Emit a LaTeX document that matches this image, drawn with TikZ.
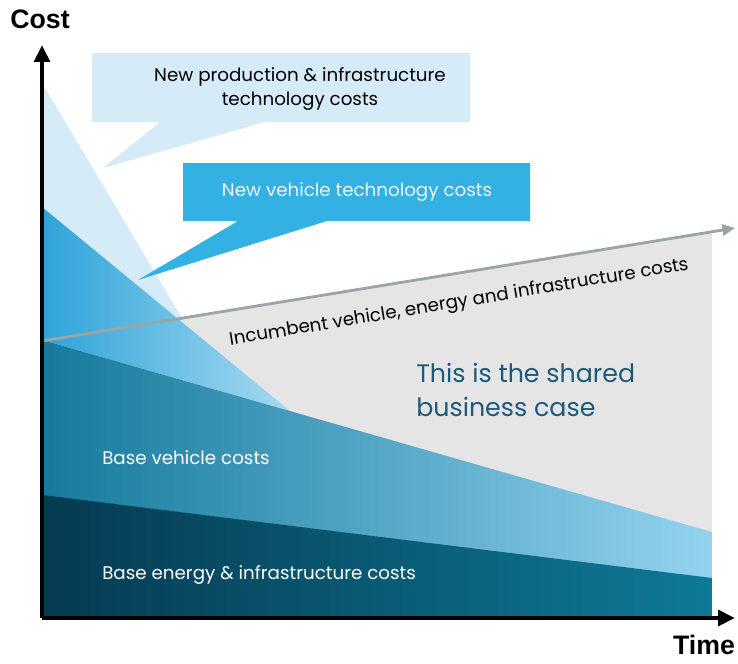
\documentclass[tikz,border=0pt]{standalone}
\usepackage{fontspec}
\setmainfont{Poppins}
\newfontfamily\axisfont{Liberation Sans}
\usetikzlibrary{arrows.meta}

\definecolor{energyleft}{RGB}{6, 58, 82}
\definecolor{energyright}{RGB}{14, 122, 150}
\definecolor{vehicleleft}{RGB}{22, 122, 156}
\definecolor{vehicleright}{RGB}{147, 211, 239}
\definecolor{newvehleft}{RGB}{46, 163, 217}
\definecolor{newvehright}{RGB}{166, 218, 241}
\definecolor{newprod}{RGB}{213, 236, 248}
\definecolor{newvehbox}{RGB}{51, 177, 227}
\definecolor{sharedgray}{RGB}{229, 229, 229}
\definecolor{incumbent}{RGB}{154, 165, 166}
\definecolor{sharedtext}{RGB}{29, 90, 122}

\tikzset{
  axisline/.style={line width=2.8pt, -{Triangle[length=12pt, width=11pt]}},
  axislabel/.style={font=\axisfont\bfseries\fontsize{19}{22}\selectfont},
  costlabel/.style={font=\fontsize{13}{17.7}\selectfont, inner sep=0pt},
}

\begin{document}
\begin{tikzpicture}[x=0.025cm, y=-0.025cm]
			\useasboundingbox (0, 0) rectangle (738, 664);
			% named corners
			\coordinate (O) at (42, 618);
			\coordinate (ytop) at (42, 45);
			\coordinate (xend) at (735, 618);
			\coordinate (inc0) at (42, 341);
			\coordinate (inc1) at (735, 228);
			% cost layers
			\fill [sharedgray] (42, 341) -- (712, 232) -- (712, 532) -- cycle;
			\fill [newprod] (42, 83) -- (182, 318) -- (42, 341) -- cycle;
			\shade [left color=newvehleft, right color=newvehright] (42, 207) -- (290, 411) -- (42, 340) -- cycle;
			\shade [left color=vehicleleft, right color=vehicleright] (42, 340) -- (712, 532) -- (712, 618) -- (42, 618) -- cycle;
			\shade [left color=energyleft, right color=energyright] (42, 495) -- (712, 578) -- (712, 618) -- (42, 618) -- cycle;
			\draw [incumbent, line width=2pt, -{Triangle[length=9pt, width=8pt]}] (inc0) -- (inc1);
			% axes
			\draw [axisline] (O) -- (ytop);
			\draw [axisline] (O) -- (xend);
			% callouts
			\fill [newprod] (92, 53) -- (470, 53) -- (470, 122) -- (265, 122) -- (103, 168) -- (160, 122) -- (92, 122) -- cycle;
			\fill [newvehbox] (183, 163) -- (530, 163) -- (530, 221) -- (327, 221) -- (138, 280) -- (238, 221) -- (183, 221) -- cycle;
			% labels
			\node [axislabel] (cost) at (40, 19) {Cost};
			\node [axislabel] (time) at (704, 645) {Time};
			\node [costlabel, align=center] (newprodtxt) at (300, 89) {New production \& infrastructure\\technology costs};
			\node [costlabel, text=black!5] (newvehtxt) at (357, 192) {New vehicle technology costs};
			\node [costlabel, rotate=9.4] (incumbenttxt) at (459, 303) {Incumbent vehicle, energy and infrastructure costs};
			\node [font=\fontsize{18}{24}\selectfont, text=sharedtext, align=left, anchor=west, inner sep=0pt] (sharedtxt) at (416, 390) {This is the shared\\business case};
			\node [costlabel, text=white, anchor=west] (basevehtxt) at (102, 458) {Base vehicle costs};
			\node [costlabel, text=white, anchor=west] (baseenergytxt) at (102, 575) {Base energy \& infrastructure costs};
		\end{tikzpicture}
\end{document}
